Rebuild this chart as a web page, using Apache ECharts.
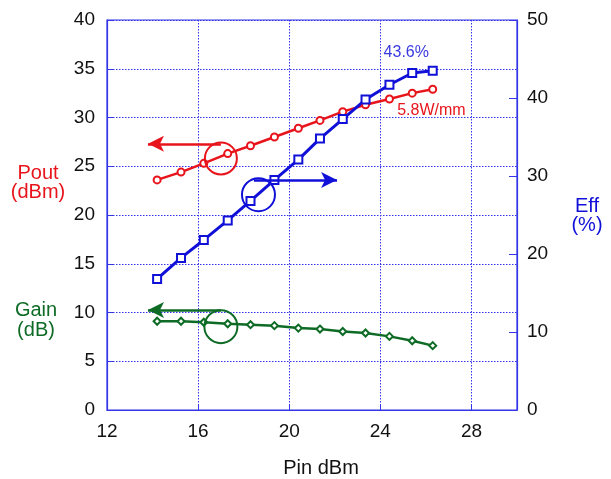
<!DOCTYPE html>
<html>
<head>
<meta charset="utf-8">
<script src="https://cdn.jsdelivr.net/npm/echarts@6/dist/echarts.min.js"></script>
<style>html,body{margin:0;padding:0;background:#fff;}#c{width:611px;height:479px;}</style>
</head>
<body>
<div id="c"></div>
<script>
var pin = [14.2, 15.25, 16.25, 17.3, 18.3, 19.35, 20.4, 21.35, 22.35, 23.35, 24.4, 25.4, 26.3];
var pout = [23.6, 24.4, 25.3, 26.3, 27.1, 28.0, 28.9, 29.7, 30.6, 31.3, 31.9, 32.5, 32.9];
var eff = [16.8, 19.5, 21.8, 24.3, 26.8, 29.5, 32.1, 34.8, 37.3, 39.8, 41.7, 43.2, 43.5];
var gain = [9.1, 9.1, 9.0, 8.85, 8.75, 8.65, 8.4, 8.3, 8.05, 7.9, 7.55, 7.1, 6.6];
var xTicks = [12, 16, 20, 24, 28];

var RED = '#e8141c', BLUE = '#1010d8', GREEN = '#0e6b26', AX = '#3434e8';
var FONT = 'Liberation Sans, Arial, sans-serif';

function pairs(ys) { return pin.map(function (x, i) { return [x, ys[i]]; }); }

function arrow(color, x0, x1, y) {
  return {
    silent: true, symbol: ['none', 'arrow'], symbolSize: 14, precision: 2,
    lineStyle: { color: color, width: 2.5, type: 'solid' }, label: { show: false },
    emphasis: { disabled: true },
    data: [[{ coord: [x0, y], symbol: 'none' }, { coord: [x1, y], symbol: 'arrow', symbolSize: [12, 16], itemStyle: { color: color } }]]
  };
}

var chart = echarts.init(document.getElementById('c'));
chart.setOption({
  animation: false,
  grid: { left: 107, right: 94, top: 20, bottom: 69, show: true, borderColor: AX, borderWidth: 1.2, backgroundColor: 'transparent', outerBoundsMode: 'none', containLabel: false },
  xAxis: {
    type: 'value', min: 12, max: 30, interval: 4,
    name: 'Pin dBm', nameLocation: 'middle', nameGap: 48,
    nameTextStyle: { fontSize: 20, color: '#111', fontFamily: FONT, padding: [0, 0, 0, 18] },
    axisLine: { lineStyle: { color: AX, width: 1.2 } },
    axisTick: { inside: true, length: 5, lineStyle: { color: AX } },
    axisLabel: { fontSize: 19, color: '#111', fontFamily: FONT, margin: 12,
      formatter: function (v) { return xTicks.indexOf(v) >= 0 ? String(v) : ''; } },
    splitLine: { show: true, lineStyle: { color: AX, type: [1.5, 1.5], width: 1 } }
  },
  yAxis: [{
    type: 'value', min: 0, max: 40, interval: 5, position: 'left',
    axisLine: { show: true, lineStyle: { color: AX, width: 1.2 } },
    axisTick: { show: true, inside: true, length: 6, lineStyle: { color: AX } },
    axisLabel: { fontSize: 19, color: '#111', fontFamily: FONT, margin: 12, padding: [0, 0, 6, 0] },
    splitLine: { show: true, lineStyle: { color: AX, type: [1.5, 1.5], width: 1 } }
  }, {
    type: 'value', min: 0, max: 50, interval: 10, position: 'right',
    axisLine: { show: true, lineStyle: { color: AX, width: 1.2 } },
    axisTick: { show: true, inside: true, length: 8, lineStyle: { color: AX } },
    axisLabel: { fontSize: 19, color: '#111', fontFamily: FONT, margin: 10, padding: [0, 0, 6, 0] },
    splitLine: { show: false }
  }],
  series: [{
    type: 'line', name: 'Pout', yAxisIndex: 0, data: pairs(pout),
    symbol: 'emptyCircle', symbolSize: 7,
    lineStyle: { color: RED, width: 2.5 }, itemStyle: { color: RED, borderWidth: 1.5 },
    markPoint: {
      silent: true,
      data: [
        { coord: [17.0, 25.8], symbol: 'circle', symbolSize: 32, itemStyle: { color: 'transparent', borderColor: RED, borderWidth: 2 }, label: { show: false } },
        { coord: [26.24, 30.7], symbol: 'circle', symbolSize: 1, itemStyle: { color: 'transparent' },
          label: { show: true, position: 'inside', formatter: '5.8W/mm', color: RED, fontSize: 16, fontFamily: FONT } }
      ]
    },
    markLine: arrow(RED, 17.0, 13.8, 27.3)
  }, {
    type: 'line', name: 'Eff', yAxisIndex: 1, data: pairs(eff),
    symbol: 'emptyRect', symbolSize: 8,
    lineStyle: { color: BLUE, width: 3 }, itemStyle: { color: BLUE, borderWidth: 1.5 },
    markPoint: {
      silent: true,
      data: [
        { coord: [18.65, 27.6], symbol: 'circle', symbolSize: 33, itemStyle: { color: 'transparent', borderColor: BLUE, borderWidth: 2 }, label: { show: false } },
        { coord: [25.14, 45.8], symbol: 'circle', symbolSize: 1, itemStyle: { color: 'transparent' },
          label: { show: true, position: 'inside', formatter: '43.6%', color: '#3a3ae0', fontSize: 16, fontFamily: FONT } }
      ]
    },
    markLine: arrow(BLUE, 18.45, 22.1, 29.5)
  }, {
    type: 'line', name: 'Gain', yAxisIndex: 0, data: pairs(gain),
    symbol: 'emptyDiamond', symbolSize: 7,
    lineStyle: { color: GREEN, width: 2.5 }, itemStyle: { color: GREEN, borderWidth: 1.5 },
    markPoint: {
      silent: true,
      data: [
        { coord: [17.0, 8.55], symbol: 'circle', symbolSize: 33, itemStyle: { color: 'transparent', borderColor: GREEN, borderWidth: 2 }, label: { show: false } }
      ]
    },
    markLine: arrow(GREEN, 17.0, 13.8, 10.25)
  }],
  graphic: [
    { type: 'text', x: 38, y: 164, style: { text: 'Pout\n(dBm)', fill: RED, font: '20px ' + FONT, align: 'center', lineHeight: 19 } },
    { type: 'text', x: 36, y: 300, style: { text: 'Gain\n(dB)', fill: GREEN, font: '20px ' + FONT, align: 'center', lineHeight: 20 } },
    { type: 'text', x: 587, y: 197, style: { text: 'Eff\n(%)', fill: BLUE, font: '20px ' + FONT, align: 'center', lineHeight: 19 } }
  ]
});
</script>
</body>
</html>
